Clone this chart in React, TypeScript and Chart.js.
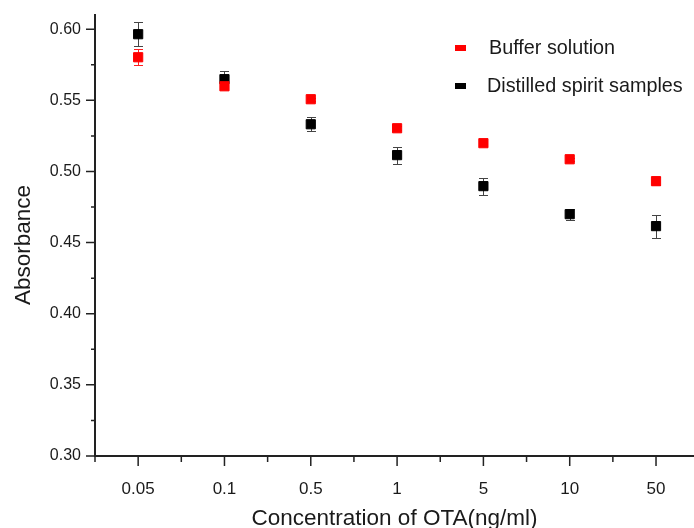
import React, { useEffect, useRef } from "react";
import { Chart, registerables } from "chart.js";

Chart.register(...registerables);

const categories = ["0.05", "0.1", "0.5", "1", "5", "10", "50"];
const bufferValues = [0.5803, 0.5599, 0.5508, 0.5304, 0.5199, 0.5086, 0.4932];
const bufferErrors = [0.0056, 0.0015, 0.001, 0.0015, 0.002, 0.001, 0.0028];
const spiritValues = [0.5965, 0.5649, 0.5332, 0.5115, 0.4897, 0.47, 0.4616];
const spiritErrors = [0.0084, 0.0056, 0.005, 0.006, 0.006, 0.0039, 0.0081];
const yMajorTicks = [0.3, 0.35, 0.4, 0.45, 0.5, 0.55, 0.6];
const yMinorTicks = [0.325, 0.375, 0.425, 0.475, 0.525, 0.575];
const xMinorTicks = [0.5, 1.5, 2.5, 3.5, 4.5, 5.5, 6.5];
const yTitle = "Absorbance";
const xTitle = "Concentration of OTA(ng/ml)";

const FONT = "'Liberation Sans', Arial, sans-serif";
const TEXT = "#1a1a1a";

const stretchPlugin = {
  id: "stretchX",
  afterLayout(chart: any) {
    const x = chart.scales.x;
    const area = chart.chartArea;
    area.right = chart.width;
    area.width = area.right - area.left;
    x.right = chart.width;
    x.width = x.right - x.left;
    x.configure();
  },
};

const errorBarPlugin = {
  id: "errorBars",
  beforeDatasetsDraw(chart: any) {
    const ctx = chart.ctx;
    const xs = chart.scales.x;
    const ys = chart.scales.y;
    chart.data.datasets.forEach((ds: any) => {
      const errs: number[] = ds.errors || [];
      ctx.save();
      ctx.strokeStyle = ds.errorColor;
      ctx.lineWidth = 1;
      ds.data.forEach((p: any, i: number) => {
        const e = errs[i] || 0;
        const x = Math.round(xs.getPixelForValue(p.x)) + 0.5;
        const yt = Math.round(ys.getPixelForValue(p.y + e)) + 0.5;
        const yb = Math.round(ys.getPixelForValue(p.y - e)) + 0.5;
        ctx.beginPath();
        ctx.moveTo(x, yt);
        ctx.lineTo(x, yb);
        ctx.moveTo(x - 4.5, yt);
        ctx.lineTo(x + 4.5, yt);
        ctx.moveTo(x - 4.5, yb);
        ctx.lineTo(x + 4.5, yb);
        ctx.stroke();
      });
      ctx.restore();
    });
  },
};

const axisDecorPlugin = {
  id: "axisDecor",
  afterDraw(chart: any) {
    const ctx = chart.ctx;
    const xs = chart.scales.x;
    const ys = chart.scales.y;
    const area = chart.chartArea;
    ctx.save();
    ctx.strokeStyle = "#222";
    ctx.lineWidth = 1.5;
    ctx.beginPath();
    yMajorTicks.forEach((v) => {
      const y = ys.getPixelForValue(v);
      ctx.moveTo(area.left - 9, y);
      ctx.lineTo(area.left, y);
    });
    yMinorTicks.forEach((v) => {
      const y = ys.getPixelForValue(v);
      ctx.moveTo(area.left - 4, y);
      ctx.lineTo(area.left, y);
    });
    categories.forEach((_, i) => {
      const x = xs.getPixelForValue(i + 1);
      ctx.moveTo(x, area.bottom);
      ctx.lineTo(x, area.bottom + 10);
    });
    xMinorTicks.forEach((v) => {
      const x = xs.getPixelForValue(v);
      ctx.moveTo(x, area.bottom);
      ctx.lineTo(x, area.bottom + 6);
    });
    ctx.stroke();
    // y axis title
    ctx.translate(24, 245);
    ctx.rotate(-Math.PI / 2);
    ctx.font = `22.5px ${FONT}`;
    ctx.fillStyle = TEXT;
    ctx.textAlign = "center";
    ctx.textBaseline = "middle";
    ctx.fillText(yTitle, 0, 0);
    ctx.restore();
  },
};

const legendPlugin = {
  id: "customLegend",
  afterDraw(chart: any) {
    const ctx = chart.ctx;
    const rows = [
      { ds: chart.data.datasets[0], y: 48, tx: 489 },
      { ds: chart.data.datasets[1], y: 86, tx: 487 },
    ];
    ctx.save();
    ctx.font = `19.8px ${FONT}`;
    ctx.textBaseline = "middle";
    ctx.textAlign = "left";
    rows.forEach((r) => {
      ctx.fillStyle = r.ds.backgroundColor;
      ctx.fillRect(455, r.y - 3, 11, 6);
      ctx.fillStyle = TEXT;
      ctx.fillText(r.ds.label, r.tx, r.y + 1);
    });
    ctx.restore();
  },
};

const zeroPadding = (s: any) => {
  s.paddingTop = 0;
  s.paddingBottom = 0;
  s.paddingLeft = 0;
  s.paddingRight = 0;
};

export default function App() {
  const ref = useRef<HTMLCanvasElement>(null);

  useEffect(() => {
    if (!ref.current) return;
    const chart = new Chart(ref.current, {
      type: "scatter",
      data: {
        datasets: [
          {
            label: "Buffer solution",
            data: bufferValues.map((v, i) => ({ x: i + 1, y: v })),
            errors: bufferErrors,
            errorColor: "#ff2020",
            backgroundColor: "#ff0000",
            borderColor: "#ff0000",
            borderWidth: 1,
            pointStyle: "rect",
            pointRadius: 6.5,
            showLine: false,
          } as any,
          {
            label: "Distilled spirit samples",
            data: spiritValues.map((v, i) => ({ x: i + 1, y: v })),
            errors: spiritErrors,
            errorColor: "#444444",
            backgroundColor: "#000000",
            borderColor: "#000000",
            borderWidth: 1,
            pointStyle: "rect",
            pointRadius: 6.5,
            showLine: false,
          } as any,
        ],
      },
      options: {
        responsive: true,
        maintainAspectRatio: false,
        animation: false,
        layout: { padding: { top: 15, right: 0, left: 0, bottom: 0 } },
        plugins: { legend: { display: false }, tooltip: { enabled: false } },
        scales: {
          x: {
            type: "linear",
            min: 0.5,
            max: 7.44,
            grid: { display: false, drawTicks: false },
            border: { display: true, color: "#222", width: 2 },
            afterBuildTicks: (s: any) => {
              s.ticks = categories.map((_, i) => ({ value: i + 1 }));
            },
            afterFit: (s: any) => {
              s.height = 72;
              zeroPadding(s);
            },
            ticks: {
              autoSkip: false,
              maxRotation: 0,
              padding: 23,
              color: TEXT,
              font: { family: FONT, size: 17 },
              callback: (v: any) => categories[Math.round(v) - 1] ?? "",
            },
            title: {
              display: true,
              text: xTitle,
              color: TEXT,
              font: { family: FONT, size: 22.5, lineHeight: 1 },
              padding: { top: 0, bottom: -2 },
            },
          },
          y: {
            type: "linear",
            min: 0.3,
            max: 0.61,
            grid: { display: false, drawTicks: false },
            border: { display: true, color: "#222", width: 2 },
            afterBuildTicks: (s: any) => {
              s.ticks = yMajorTicks.map((v) => ({ value: v }));
            },
            afterFit: (s: any) => {
              s.width = 95;
              zeroPadding(s);
            },
            ticks: {
              padding: 14,
              color: TEXT,
              font: { family: FONT, size: 16 },
              callback: (v: any) => Number(v).toFixed(2),
            },
          },
        },
      },
      plugins: [stretchPlugin, errorBarPlugin, axisDecorPlugin, legendPlugin],
    });
    return () => chart.destroy();
  }, []);

  return (
    <div style={{ position: "fixed", left: 0, top: 0, width: 694, height: 528, background: "#fff" }}>
      <canvas ref={ref} />
    </div>
  );
}
